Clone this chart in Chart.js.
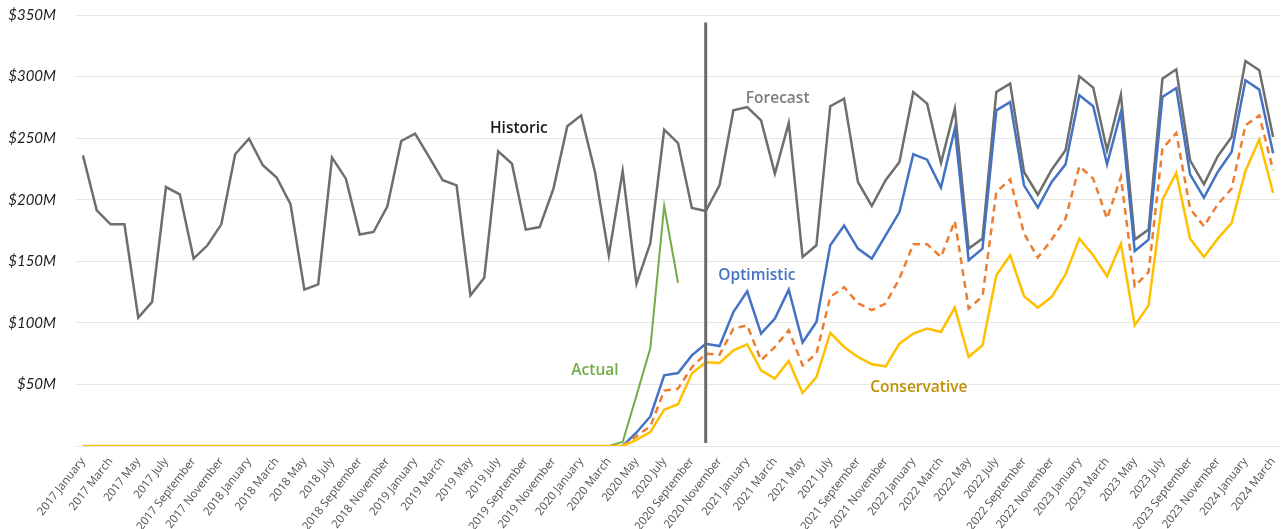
<!DOCTYPE html>
<html lang="en">
<head>
  <meta charset="utf-8">
  <title>Monthly revenue - historic and forecast</title>
  <script src="https://cdn.jsdelivr.net/npm/chart.js@4"></script>
  <style>
    html, body { margin: 0; padding: 0; background: #fff; }
    #wrap { position: relative; width: 1285px; height: 529px; }
  </style>
</head>
<body>
  <div id="wrap"><canvas id="chart"></canvas></div>
  <script>
    var years = [2017, 2018, 2019, 2020, 2021, 2022, 2023, 2024];
    var monthNames = ['January', 'February', 'March', 'April', 'May', 'June', 'July',
      'August', 'September', 'October', 'November', 'December'];

    // one category per month, 2017 January .. 2024 March
    var months = [];
    years.forEach(function(y) {
      monthNames.forEach(function(m, i) {
        if (y < 2024 || i < 3) months.push(y + ' ' + m);
      });
    });

    // $M per month
    var historicForecast = [
      236, 191.4, 180, 180, 104.2, 117, 210.3, 204.4, 152.2, 163,
      180, 236.9, 249.6, 228, 218, 196.3, 127, 131.3, 234.2, 217.1,
      171.7, 173.8, 194.6, 247.7, 253.7, 235, 215.8, 211.7, 122.4, 136.7,
      239.3, 229.3, 175.7, 177.8, 209, 259.6, 268.5, 222.5, 154.8, 223.3,
      131.9, 164.8, 256.9, 246, 193.3, 190.8, 211.7, 272.6, 275.2, 264.4,
      221.2, 262.3, 153.5, 163, 275.9, 282.1, 214.4, 194.9, 215.8, 230.7,
      287.5, 278, 229.8, 274, 160.3, 168.4, 287.5, 294.3, 222.5, 204.1,
      224.4, 240.1, 300.2, 291, 240.1, 285.3, 167.6, 175.7, 298.3, 305.9,
      232, 212.5, 235.3, 250.9, 312.6, 305.1, 250.9
    ];

    var actual = [
      null, null, null, null, null, null, null, null, null, null,
      null, null, null, null, null, null, null, null, null, null,
      null, null, null, null, null, null, null, null, null, null,
      null, null, null, null, null, null, null, null, 0, 3.2,
      41, 79.6, 195, 132.6
    ];

    var optimistic = [
      null, null, null, null, null, null, null, null, null, null,
      null, null, null, null, null, null, null, null, null, null,
      null, null, null, null, null, null, null, null, null, null,
      null, null, null, null, null, null, null, null, null, 0,
      11, 24, 57.4, 59.3, 73.6, 83, 81.2, 108.8, 125.6, 91.3,
      103.5, 127, 84, 100.7, 163, 179, 160.3, 152.2, 171.1, 190,
      236.9, 232.5, 209.8, 257.7, 150.8, 160.3, 272.6, 279.3, 211.7, 193.6,
      214.4, 228.7, 284.8, 275.9, 228.7, 271.2, 158.4, 167.6, 283.4, 290.7,
      220.6, 201.7, 222.5, 238.8, 297, 289.4, 237.7
    ];

    var expected = [
      null, null, null, null, null, null, null, null, null, null,
      null, null, null, null, null, null, null, null, null, null,
      null, null, null, null, null, null, null, null, null, null,
      null, null, null, null, null, null, null, null, null, 0,
      8, 16, 45, 46.6, 64, 75, 74, 95.3, 98, 69.6,
      80.4, 94, 65.5, 75, 121, 129, 116, 110.3, 115.6, 136,
      163.8, 163.8, 153.5, 182.7, 111.6, 121.6, 206.3, 216.6, 172.5, 153,
      167.6, 184.7, 227.2, 217.1, 184.7, 218.4, 129.7, 141.3, 241.5, 254.2,
      192.8, 178.4, 196.3, 209, 260.4, 268.5, 223.9
    ];

    var conservative = [
      0, 0, 0, 0, 0, 0, 0, 0, 0, 0,
      0, 0, 0, 0, 0, 0, 0, 0, 0, 0,
      0, 0, 0, 0, 0, 0, 0, 0, 0, 0,
      0, 0, 0, 0, 0, 0, 0, 0, 0, 0,
      5, 11.4, 29.5, 33.9, 58.8, 68, 67.4, 77.7, 82.6, 61.5,
      54.7, 69, 43, 56, 91.8, 80.4, 72.3, 66.3, 64.7, 83.1,
      91.3, 95.3, 92.6, 112.4, 72.3, 81.8, 138.6, 154.9, 121.6, 112.4,
      121, 139.4, 168.4, 154.9, 137.8, 164.3, 98, 114.2, 200, 221.7,
      168.4, 153.5, 168.4, 181, 223.3, 248.8, 205.5
    ];

    // split between historic and forecast (2020 October)
    var dividerIndex = 45;
    var dividerFrom = 2.5, dividerTo = 344;

    // in-chart labels: category index / $M of the text centre
    var notes = [
      { text: 'Historic', at: 31.5, value: 258, color: '#1a1a1a' },
      { text: 'Forecast', at: 50.2, value: 282, color: '#7b7b7b' },
      { text: 'Optimistic', at: 48.7, value: 138.6, color: '#4472c4' },
      { text: 'Actual', at: 37.0, value: 61.5, color: '#70ad47' },
      { text: 'Conservative', at: 60.4, value: 47.1, color: '#bf9000' }
    ];

    var overlay = {
      id: 'overlay',
      afterDatasetsDraw: function(chart) {
        var ctx = chart.ctx, x = chart.scales.x, y = chart.scales.y;
        ctx.save();
        ctx.strokeStyle = '#6b6b6b';
        ctx.lineWidth = 3;
        ctx.beginPath();
        var px = x.getPixelForValue(dividerIndex);
        ctx.moveTo(px, y.getPixelForValue(dividerTo));
        ctx.lineTo(px, y.getPixelForValue(dividerFrom));
        ctx.stroke();

        ctx.font = '600 15.5px "Open Sans"';
        ctx.textAlign = 'center';
        ctx.textBaseline = 'middle';
        notes.forEach(function(n) {
          ctx.fillStyle = n.color;
          ctx.fillText(n.text, x.getPixelForValue(n.at), y.getPixelForValue(n.value));
        });
        ctx.restore();
      }
    };

    function line(label, data, color, width, order, dash) {
      return {
        label: label,
        data: data,
        borderColor: color,
        backgroundColor: color,
        borderWidth: width,
        borderDash: dash || [],
        pointRadius: 0,
        tension: 0,
        order: order,
        spanGaps: false
      };
    }

    new Chart(document.getElementById('chart'), {
      type: 'line',
      data: {
        labels: months,
        datasets: [
          line('Historic / Forecast', historicForecast, '#6e6e6e', 2.5, 3),
          line('Actual', actual, '#70ad47', 2, 4),
          line('Optimistic', optimistic, '#4472c4', 2.5, 2),
          line('Expected', expected, '#ed7d31', 2.5, 1, [7, 5]),
          line('Conservative', conservative, '#ffc000', 2.5, 0)
        ]
      },
      options: {
        responsive: true,
        maintainAspectRatio: false,
        animation: false,
        devicePixelRatio: 1,
        layout: { padding: { top: 15, right: 0, bottom: 0, left: 0 } },
        plugins: {
          legend: { display: false },
          tooltip: { enabled: false }
        },
        scales: {
          x: {
            offset: true,
            grid: { display: false },
            border: { display: false },
            afterFit: function(scale) { scale.height = 83; },
            ticks: {
              autoSkip: false,
              minRotation: 52,
              maxRotation: 52,
              padding: 1,
              color: '#505050',
              font: { family: '"Open Sans"', size: 11.5 },
              callback: function(v, i) { return i % 2 === 0 ? this.getLabelForValue(v) : ''; }
            }
          },
          y: {
            min: 0,
            max: 350,
            // invisible tick marks keep the labels clear of the plot
            grid: { color: '#e6e6e6', lineWidth: 1, drawTicks: true, tickLength: 18, tickColor: 'rgba(0,0,0,0)' },
            border: { display: false },
            afterFit: function(scale) { scale.width = 76; },
            ticks: {
              stepSize: 50,
              padding: 2,
              color: '#1e1e1e',
              font: { family: 'Lato', style: 'italic', size: 15 },
              callback: function(v) { return v === 0 ? '' : '$' + v + 'M'; }
            }
          }
        }
      },
      plugins: [overlay]
    });
  </script>
</body>
</html>
